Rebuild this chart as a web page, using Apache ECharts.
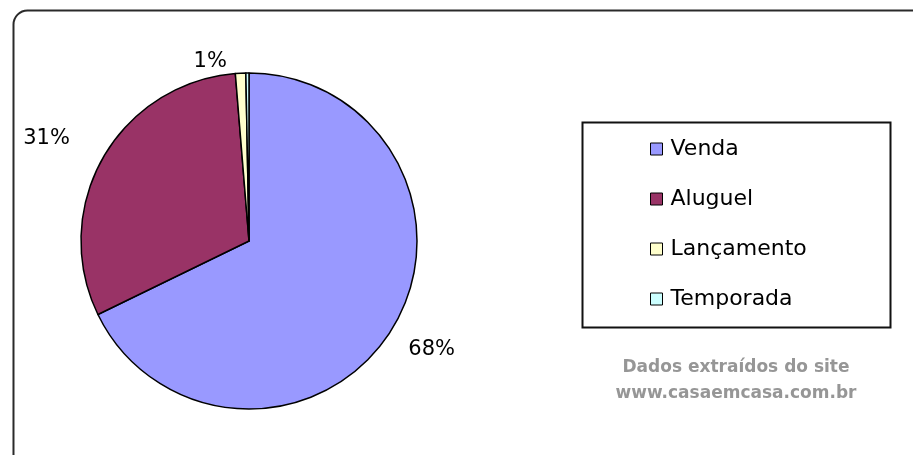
<!DOCTYPE html>
<html>
<head>
<meta charset="utf-8">
<script src="https://cdn.jsdelivr.net/npm/echarts@6/dist/echarts.min.js"></script>
<style>
  html, body { margin: 0; padding: 0; background: #fff; }
  #chart { width: 913px; height: 455px; }
</style>
</head>
<body>
<div id="chart"></div>
<script>
// categories and values (percent)
const categories = ['Venda', 'Aluguel', 'Lançamento', 'Temporada'];
const values = [68, 31, 1, 0.3];
const colors = ['#9999ff', '#993366', '#ffffcc', '#ccffff'];
const showLabel = [true, true, true, false];

let myChart = echarts.init(document.getElementById('chart'));

let pieData = categories.map(function (name, i) {
    return {
        name: name,
        value: values[i],
        itemStyle: { color: colors[i] },
        label: { show: showLabel[i] }
    };
});

let option = {
    animation: false,
    graphic: [
        {
            type: 'rect',
            shape: { x: 13.5, y: 10.5, width: 960, height: 500, r: 14 },
            style: { fill: 'none', stroke: '#2a2a2a', lineWidth: 2 },
            silent: true
        },
        {
            type: 'rect',
            shape: { x: 582.5, y: 122.5, width: 308, height: 205 },
            style: { fill: 'none', stroke: '#111', lineWidth: 2 },
            silent: true
        },
        {
            type: 'text',
            x: 736,
            y: 368,
            style: {
                text: 'Dados extraídos do site',
                fill: '#969696',
                font: 'bold 17px "DejaVu Sans"',
                textAlign: 'center',
                textVerticalAlign: 'middle'
            },
            silent: true
        },
        {
            type: 'text',
            x: 736,
            y: 394,
            style: {
                text: 'www.casaemcasa.com.br',
                fill: '#969696',
                font: 'bold 17px "DejaVu Sans"',
                textAlign: 'center',
                textVerticalAlign: 'middle'
            },
            silent: true
        }
    ],
    legend: {
        orient: 'vertical',
        left: 645,
        top: 133,
        itemGap: 28,
        itemWidth: 12,
        itemHeight: 12,
        icon: 'rect',
        selectedMode: false,
        data: categories,
        itemStyle: { borderColor: '#000', borderWidth: 1 },
        textStyle: {
            fontFamily: 'DejaVu Sans',
            fontSize: 22,
            lineHeight: 22,
            color: '#000',
            padding: [0, 0, 0, 3]
        }
    },
    series: [
        {
            type: 'pie',
            center: [249, 241],
            radius: 168,
            startAngle: 90,
            clockwise: true,
            data: pieData,
            emphasis: { disabled: true },
            itemStyle: { borderColor: '#000', borderWidth: 1.5 },
            label: {
                position: 'outside',
                formatter: '{c}%',
                fontFamily: 'DejaVu Sans',
                fontSize: 21,
                color: '#000'
            },
            labelLine: { show: false, length: 14, length2: 0 },
            labelLayout: function (params) {
                // nudge labels toward where the original placed them
                if (params.dataIndex === 0) return { dy: 12 };
                if (params.dataIndex === 1) return { dx: -16, dy: -12 };
                if (params.dataIndex === 2) return { dx: -8, dy: 2 };
                return {};
            }
        }
    ]
};

myChart.setOption(option);
window.onresize = function () {
    myChart.resize();
};
</script>
</body>
</html>
